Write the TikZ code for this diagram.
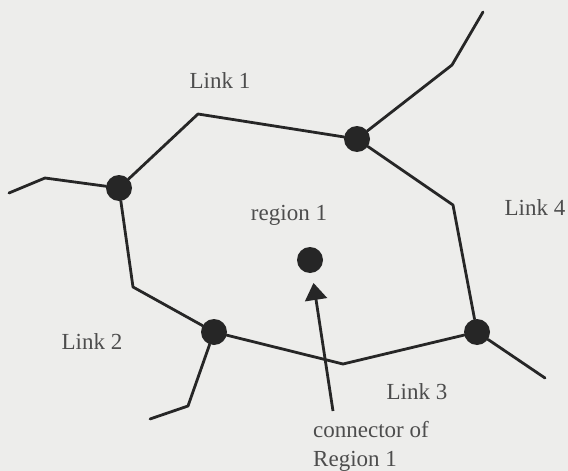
\documentclass[tikz,border=0pt]{standalone}
\usepackage{fontspec}
\setmainfont{Liberation Serif}
\usetikzlibrary{arrows.meta}
\definecolor{paper}{HTML}{EDEDEB}
\definecolor{ink}{HTML}{262626}
\definecolor{labelgray}{HTML}{4D4D4D}
\begin{document}
\begin{tikzpicture}[x=1pt,y=-1pt,
  link/.style={draw=ink,line width=2.8pt,line join=round,line cap=round},
  junction/.style={circle,fill=ink,inner sep=0pt,minimum size=26pt},
  lbl/.style={text=labelgray,font=\fontsize{23}{29}\selectfont,inner sep=0pt}]
  % page area
  \fill[paper] (0,0) rectangle (568,471);
  \useasboundingbox (0,0) rectangle (568,471);

  % junctions of the region boundary
  \node[junction] (tr) at (357,139) {};
  \node[junction] (lf) at (119,188) {};
  \node[junction] (bt) at (214,332) {};
  \node[junction] (rt) at (477,332) {};
  \node[junction] (ctr) at (310,260) {};

  % bends of the links and free ends
  \coordinate (b1) at (198,114);
  \coordinate (b2) at (133,287);
  \coordinate (b3) at (343,364);
  \coordinate (b4) at (453,205);
  \coordinate (trA) at (452,65);
  \coordinate (trB) at (483,12);
  \coordinate (lfA) at (45,178);
  \coordinate (lfB) at (9,193);
  \coordinate (btA) at (188,406);
  \coordinate (btB) at (150,419);
  \coordinate (rtA) at (545,378);
  \coordinate (foot) at (333,411);

  % links
  \draw[link] (lf) -- (b1) -- (tr);
  \draw[link] (lf) -- (b2) -- (bt);
  \draw[link] (bt) -- (b3) -- (rt);
  \draw[link] (rt) -- (b4) -- (tr);
  % outgoing links
  \draw[link] (tr) -- (trA) -- (trB);
  \draw[link] (lf) -- (lfA) -- (lfB);
  \draw[link] (bt) -- (btA) -- (btB);
  \draw[link] (rt) -- (rtA);

  % connector arrow
  \draw[draw=ink,line width=2.8pt,shorten >=10pt,
        -{Triangle[length=17pt,width=22pt]}] (foot) -- (ctr);

  % labels
  \node[lbl] (l1) at (220,81) {Link 1};
  \node[lbl] (l2) at (92,342) {Link 2};
  \node[lbl] (l3) at (417,392) {Link 3};
  \node[lbl] (l4) at (535,208) {Link 4};
  \node[lbl] (reg) at (289,215) {region 1};
  \node[lbl,align=left] (conn) at (371,446) {connector of\\Region 1};
\end{tikzpicture}
\end{document}
